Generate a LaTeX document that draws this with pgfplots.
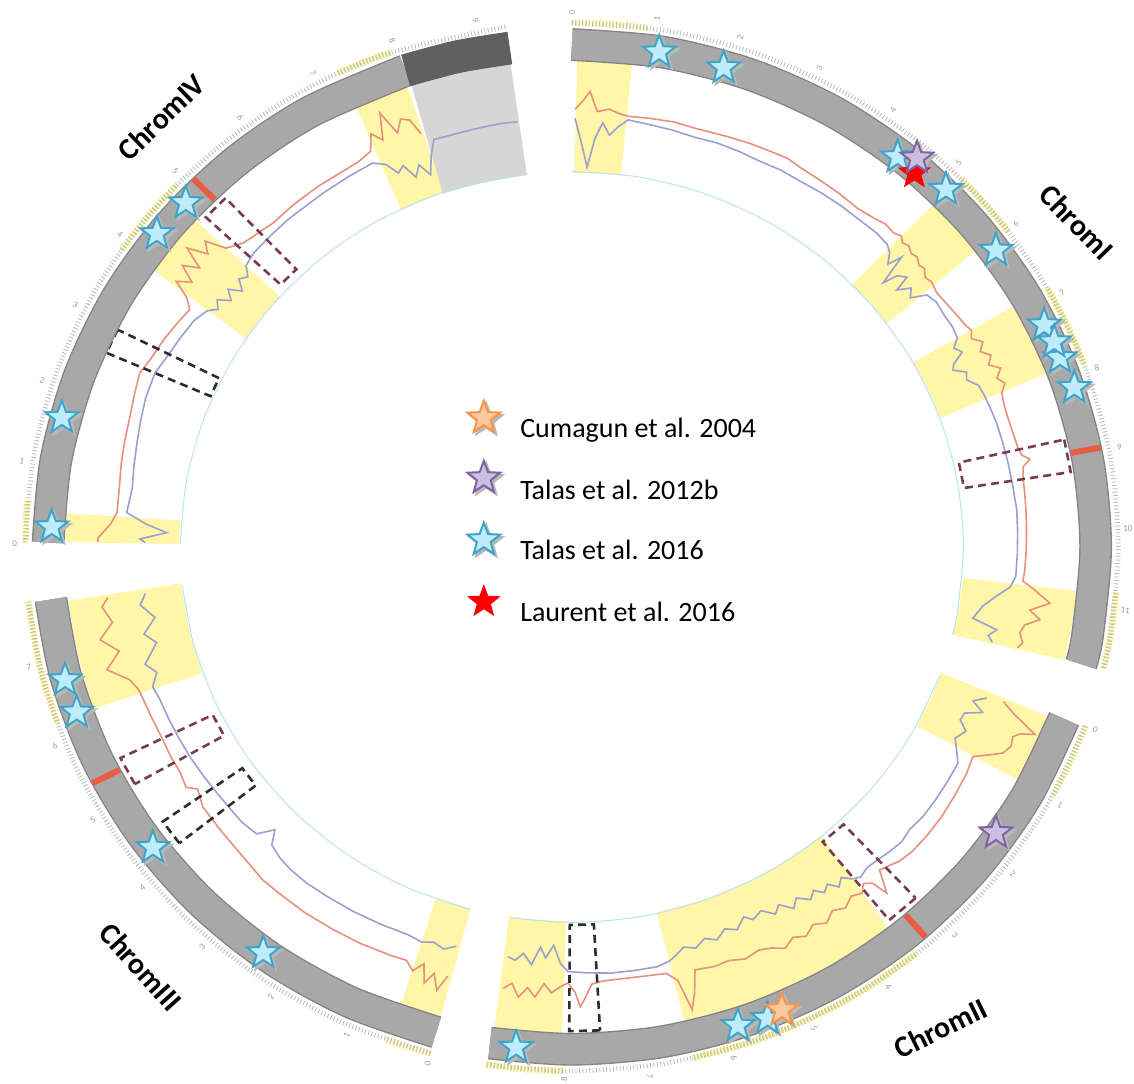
\documentclass[border=0pt]{standalone}
\usepackage{fontspec}
\setmainfont{Carlito}
\usepackage{pgfplots}
\usepackage{pgfplotstable}
\pgfplotsset{compat=1.18}

\definecolor{band}{RGB}{168,168,168}
\definecolor{bandedge}{RGB}{132,132,132}
\definecolor{banddark}{RGB}{96,96,96}
\definecolor{hl}{RGB}{255,246,168}
\definecolor{hltick}{RGB}{236,226,90}
\definecolor{trackgray}{RGB}{214,214,214}
\definecolor{redline}{RGB}{230,145,125}
\definecolor{blueline}{RGB}{155,160,208}
\definecolor{innerblue}{RGB}{185,226,246}
\definecolor{cent}{RGB}{232,92,64}
\definecolor{dashred}{RGB}{120,60,80}
\definecolor{dashblk}{RGB}{45,45,45}
\definecolor{cyanfill}{RGB}{190,236,250}
\definecolor{cyandraw}{RGB}{64,164,200}
\definecolor{purpfill}{RGB}{204,192,226}
\definecolor{purpdraw}{RGB}{128,100,162}
\definecolor{orfill}{RGB}{251,200,160}
\definecolor{ordraw}{RGB}{247,150,70}

% filled five-point star
\pgfdeclareplotmark{fstar}{%
  \pgfpathmoveto{\pgfpointpolar{90}{\pgfplotmarksize}}%
  \pgfpathlineto{\pgfpointpolar{126}{0.42\pgfplotmarksize}}%
  \pgfpathlineto{\pgfpointpolar{162}{\pgfplotmarksize}}%
  \pgfpathlineto{\pgfpointpolar{198}{0.42\pgfplotmarksize}}%
  \pgfpathlineto{\pgfpointpolar{234}{\pgfplotmarksize}}%
  \pgfpathlineto{\pgfpointpolar{270}{0.42\pgfplotmarksize}}%
  \pgfpathlineto{\pgfpointpolar{306}{\pgfplotmarksize}}%
  \pgfpathlineto{\pgfpointpolar{342}{0.42\pgfplotmarksize}}%
  \pgfpathlineto{\pgfpointpolar{18}{\pgfplotmarksize}}%
  \pgfpathlineto{\pgfpointpolar{54}{0.42\pgfplotmarksize}}%
  \pgfpathclose
  \pgfusepathqfillstroke}

\pgfplotsset{
  arc/.style={data cs=polar, smooth, no markers},
  hlsec/.style={arc, draw=hl, line width=57pt},
  hlout/.style={arc, draw=hltick, line width=3.2pt, dash pattern=on 0.7pt off 1pt},
  bandout/.style={arc, draw=bandedge, line width=16.4pt},
  bandin/.style={arc, draw=band, line width=15pt},
  inner/.style={arc, draw=innerblue, line width=0.5pt},
  ticks/.style={arc, draw=gray!55, line width=2.4pt, dash pattern=on 0.4pt off 1.3pt},
  rline/.style={data cs=polar, no markers, draw=redline, line width=0.8pt},
  bline/.style={data cs=polar, no markers, draw=blueline, line width=0.8pt},
  dbox/.style={data cs=polar, no markers, line width=1.3pt, dash pattern=on 4pt off 2.6pt},
  cmark/.style={data cs=polar, no markers, draw=cent, line width=3pt},
  stars/.style={only marks, mark=fstar, mark size=8.6pt},
}

% track values: angle (deg), radius
\pgfplotstableread{
a r
89.6 0.845
88.6 0.862
87.8 0.880
86.8 0.842
85.3 0.848
84.2 0.842
82.9 0.838
80 0.840
77 0.842
74 0.840
70 0.843
67 0.846
64 0.848
62 0.850
60 0.846
57 0.844
54 0.843
51 0.841
49 0.845
47 0.852
45.5 0.850
44.5 0.856
43.8 0.848
43 0.853
42 0.846
41.2 0.850
40.2 0.842
39.5 0.846
38.5 0.836
37.5 0.840
36 0.835
34 0.838
32 0.842
30.5 0.845
29.5 0.850
28.5 0.842
27.5 0.858
26.5 0.845
25.5 0.860
24.5 0.848
23.5 0.866
22.5 0.852
21.5 0.862
20.5 0.850
19 0.846
17 0.845
15 0.846
13 0.848
12 0.852
11.3 0.865
10.5 0.850
9 0.846
7 0.845
5 0.844
3 0.843
1 0.842
-1 0.841
-3 0.840
-4.5 0.838
-5.5 0.860
-7 0.892
-8.2 0.857
-9.2 0.878
-10.2 0.852
-11.3 0.846
-12.5 0.855
-13.3 0.848
}\chrIred
\pgfplotstableread{
a r
89.6 0.828
88.7 0.780
87.8 0.734
86.9 0.790
86.0 0.821
85.0 0.798
84.0 0.815
82.8 0.831
80 0.828
77 0.826
74 0.823
71 0.825
68 0.824
65 0.822
62 0.824
59 0.823
56 0.825
53 0.826
50 0.826
47 0.828
45 0.826
44 0.818
43 0.800
42.5 0.828
41.5 0.770
41 0.798
40 0.810
39.5 0.780
38.5 0.803
37.5 0.790
36.5 0.818
35 0.824
33 0.822
31 0.823
29.5 0.820
28.5 0.805
27.5 0.815
26.5 0.790
25.8 0.784
24.8 0.805
23.8 0.799
22.5 0.815
21 0.818
19 0.820
17 0.822
14 0.823
11 0.824
8 0.825
5 0.827
2 0.826
-1 0.825
-4 0.824
-5.5 0.815
-7 0.790
-8.5 0.770
-10.5 0.755
-11.5 0.803
-12.5 0.790
-13.3 0.800
}\chrIblue
\pgfplotstableread{
a r
-20.5 0.853
-21.5 0.880
-22.9 0.931
-23.5 0.905
-24.2 0.895
-25.3 0.900
-26.5 0.892
-27.5 0.870
-28.6 0.846
-31 0.852
-34 0.856
-37 0.860
-40 0.862
-43 0.862
-45 0.858
-46.5 0.850
-47.6 0.845
-48.4 0.870
-48.9 0.887
-49.4 0.855
-50.3 0.845
-51.2 0.858
-52.5 0.850
-54 0.862
-55.5 0.852
-57 0.866
-58.5 0.855
-60 0.868
-61.5 0.858
-63 0.870
-64.5 0.858
-66 0.852
-68 0.858
-70 0.850
-72 0.852
-74.4 0.848
-75.2 0.890
-76 0.921
-76.8 0.860
-78 0.842
-80 0.840
-82 0.839
-84 0.839
-86 0.840
-87.5 0.845
-88.5 0.875
-89 0.888
-89.6 0.860
-90.5 0.842
-91.5 0.850
-92.5 0.862
-93.5 0.845
-94.5 0.872
-95.5 0.855
-96.5 0.875
-97.5 0.850
-98.5 0.862
}\chrIIred
\pgfplotstableread{
a r
-20.8 0.822
-21.8 0.800
-22.8 0.825
-23.8 0.795
-24.9 0.793
-26 0.812
-27.5 0.800
-29 0.815
-30.3 0.828
-33 0.830
-36 0.832
-38.7 0.833
-41 0.830
-43 0.835
-45 0.832
-47 0.828
-48.5 0.826
-50 0.832
-51 0.825
-52 0.810
-53 0.822
-54 0.805
-55 0.815
-56 0.800
-57 0.812
-58.5 0.795
-59.5 0.810
-61 0.790
-62 0.803
-63.5 0.785
-65 0.794
-66 0.782
-67.5 0.800
-69 0.790
-70.5 0.805
-72 0.795
-73.5 0.808
-75 0.800
-76.3 0.812
-77.3 0.820
-79 0.826
-82 0.826
-85 0.826
-88 0.823
-90.5 0.820
-91.5 0.805
-92.5 0.770
-93.5 0.795
-94.3 0.775
-95.3 0.810
-96.5 0.790
-97.5 0.805
-98.5 0.800
}\chrIIblue
\pgfplotstableread{
a r
-105.5 0.860
-106.3 0.892
-107.2 0.862
-108 0.885
-108.8 0.850
-109.8 0.870
-111 0.855
-113 0.857
-117 0.860
-121 0.861
-125 0.862
-129 0.861
-131.7 0.861
-134 0.856
-137 0.852
-140 0.850
-143.7 0.848
-146 0.836
-147 0.852
-149 0.846
-151.5 0.846
-153.8 0.844
-157 0.845
-161 0.848
-162.6 0.858
-164.6 0.893
-166.5 0.862
-168.4 0.892
-170.3 0.863
-172.4 0.878
-173.5 0.865
}\chrIIIred
\pgfplotstableread{
a r
-105.5 0.800
-107 0.812
-108.5 0.805
-110 0.812
-112 0.808
-116 0.810
-120 0.812
-124 0.813
-127.1 0.814
-130 0.812
-132 0.808
-134 0.800
-135.2 0.775
-136.5 0.805
-139 0.810
-142 0.810
-144.1 0.811
-147 0.813
-150 0.815
-153 0.816
-156 0.817
-159 0.818
-160.8 0.822
-162.5 0.806
-164 0.822
-166.5 0.791
-168 0.810
-170 0.784
-172 0.807
-173.5 0.795
}\chrIIIblue
\pgfplotstableread{
a r
179.4 0.878
178.9 0.878
177 0.855
175.5 0.845
172 0.846
169 0.850
166 0.853
163 0.856
160 0.862
157.2 0.868
155 0.860
152 0.855
149 0.848
147.1 0.843
146 0.860
145 0.894
144 0.870
143 0.903
142 0.875
141 0.917
140 0.880
139 0.900
138 0.862
136 0.845
133 0.838
131.5 0.835
128 0.838
124 0.840
120.8 0.840
118 0.842
116 0.850
115 0.880
114 0.860
113 0.910
112 0.862
111 0.885
110 0.877
109.3 0.845
}\chrIVred
\pgfplotstableread{
a r
179.4 0.790
178.9 0.800
177.9 0.751
176.8 0.790
175.4 0.827
172 0.822
169 0.826
166 0.830
163 0.835
160 0.840
156.5 0.842
154 0.835
151 0.830
148 0.825
146 0.815
145 0.800
144 0.812
143 0.790
142 0.808
141 0.785
140 0.805
139 0.795
138 0.812
136 0.818
133 0.820
130 0.822
128.3 0.822
124 0.824
120 0.826
116.5 0.828
115 0.815
114 0.790
113 0.800
112 0.770
111 0.790
110 0.765
109 0.800
108 0.827
105 0.826
102 0.827
99 0.828
97 0.827
}\chrIVblue
\pgfplotstableread{
a r lab rot
90 1.032 0 90
81.2 1.032 1 81.2
72.4 1.032 2 72.4
63.6 1.032 3 63.6
54.8 1.032 4 54.8
46 1.032 5 46
37.2 1.032 6 37.2
28.4 1.032 7 28.4
19.6 1.032 8 19.6
10.8 1.032 9 10.8
2 1.03 10 2
-6.8 1.032 11 -6.8
-20 1.032 0 -20
-28.85 1.032 1 -28.85
-37.7 1.032 2 -37.7
-46.55 1.032 3 -46.55
-55.4 1.032 4 -55.4
-64.25 1.032 5 -64.25
-73.1 1.032 6 -73.1
-81.95 1.032 7 -81.95
-90.8 1.028 8 89.2
-105 1.032 0 75
-113.85 1.032 1 66.15
-122.7 1.032 2 57.3
-131.55 1.032 3 48.45
-140.4 1.032 4 39.6
-149.25 1.032 5 30.75
-158.1 1.032 6 21.9
-166.95 1.032 7 13.05
179.6 1.032 0 -0.4
170.75 1.032 1 -9.25
161.9 1.032 2 -18.1
153.05 1.032 3 -26.95
144.2 1.032 4 -35.8
135.35 1.032 5 -44.65
126.5 1.032 6 -53.5
117.65 1.032 7 -62.35
108.8 1.032 8 -71.2
99.95 1.032 9 -80.05
}\ticklabels

\begin{document}
\begin{tikzpicture}
\begin{axis}[
  width=567pt, height=542pt, scale only axis,
  xmin=-1.059, xmax=1.041, ymin=-1.037, ymax=1.056,
  hide axis, clip=false,
]
% highlighted windows in the track
\addplot[hlsec] coordinates {(89.5,0.8325) (86.2,0.8325) (83,0.8325)};
\addplot[hlsec] coordinates {(44.5,0.8325) (40.7,0.8325) (37,0.8325)};
\addplot[hlsec] coordinates {(29.5,0.8325) (25,0.8325) (20.5,0.8325)};
\addplot[hlsec] coordinates {(-5,0.8325) (-9.2,0.8325) (-13.5,0.8325)};
\addplot[hlsec] coordinates {(-20,0.8325) (-24.2,0.8325) (-28.5,0.8325)};
\addplot[hlsec] coordinates {(-51,0.8325) (-57.5,0.8325) (-64,0.8325) (-70.6,0.8325) (-77.3,0.8325)};
\addplot[hlsec] coordinates {(-91,0.8325) (-95,0.8325) (-99,0.8325)};
\addplot[hlsec] coordinates {(-105,0.8325) (-107.5,0.8325) (-110,0.8325)};
\addplot[hlsec] coordinates {(-160.5,0.8325) (-167.2,0.8325) (-174,0.8325)};
\addplot[hlsec] coordinates {(176,0.8325) (177.7,0.8325) (179.5,0.8325)};
\addplot[hlsec] coordinates {(138,0.8325) (141.9,0.8325) (145.8,0.8325)};
\addplot[hlsec] coordinates {(109,0.8325) (112.2,0.8325) (115.5,0.8325)};
\addplot[hlsec, draw=trackgray] coordinates {(96.8,0.8325) (102.8,0.8325) (108.8,0.8325)};

% inner edge of the track
\addplot[inner] coordinates {(90,0.725) (80,0.725) (70,0.725) (60,0.725) (50,0.725) (40,0.725) (30,0.725) (20,0.725) (10,0.725) (0,0.725) (-10,0.725) (-13.5,0.725)};
\addplot[inner] coordinates {(-20,0.725) (-30,0.725) (-40,0.725) (-50,0.725) (-60,0.725) (-70,0.725) (-80,0.725) (-90,0.725) (-99,0.725)};
\addplot[inner] coordinates {(-105,0.725) (-115,0.725) (-125,0.725) (-135,0.725) (-145,0.725) (-155,0.725) (-165,0.725) (-174,0.725)};
\addplot[inner] coordinates {(179.5,0.725) (170,0.725) (160,0.725) (150,0.725) (140,0.725) (130,0.725) (120,0.725) (108.8,0.725) (96.8,0.725)};

% track lines
\addplot[bline] table[x=a,y=r] {\chrIblue};
\addplot[rline] table[x=a,y=r] {\chrIred};
\addplot[bline] table[x=a,y=r] {\chrIIblue};
\addplot[rline] table[x=a,y=r] {\chrIIred};
\addplot[bline] table[x=a,y=r] {\chrIIIblue};
\addplot[rline] table[x=a,y=r] {\chrIIIred};
\addplot[bline] table[x=a,y=r] {\chrIVblue};
\addplot[rline] table[x=a,y=r] {\chrIVred};

% dashed windows
\addplot[dbox, draw=dashred] coordinates {(12.8,0.935) (8.9,0.935) (8.9,0.735) (12.8,0.735) (12.8,0.935)};
\addplot[dbox, draw=dashred] coordinates {(-46.8,0.93) (-50.8,0.93) (-50.8,0.735) (-46.8,0.735) (-46.8,0.93)};
\addplot[dbox, draw=dashblk] coordinates {(-86.8,0.935) (-90.3,0.935) (-90.3,0.73) (-86.8,0.73) (-86.8,0.935)};
\addplot[dbox, draw=dashred] coordinates {(-150.5,0.93) (-154,0.93) (-154,0.74) (-150.5,0.74) (-150.5,0.93)};
\addplot[dbox, draw=dashblk] coordinates {(-141.8,0.925) (-145,0.925) (-145,0.745) (-141.8,0.745) (-141.8,0.925)};
\addplot[dbox, draw=dashred] coordinates {(133.6,0.93) (136.8,0.93) (136.8,0.74) (133.6,0.74) (133.6,0.93)};
\addplot[dbox, draw=dashblk] coordinates {(153.5,0.94) (156.5,0.94) (156.5,0.73) (153.5,0.73) (153.5,0.94)};

% chromosome ideograms
\addplot[bandout] coordinates {(90,0.97) (80,0.97) (70,0.97) (60,0.97) (50,0.97) (40,0.97) (30,0.97) (20,0.97) (10,0.97) (0,0.97) (-10,0.97) (-13.5,0.97)};
\addplot[bandin] coordinates {(90,0.97) (80,0.97) (70,0.97) (60,0.97) (50,0.97) (40,0.97) (30,0.97) (20,0.97) (10,0.97) (0,0.97) (-10,0.97) (-13.5,0.97)};
\addplot[bandout] coordinates {(-20,0.97) (-30,0.97) (-40,0.97) (-50,0.97) (-60,0.97) (-70,0.97) (-80,0.97) (-90,0.97) (-99,0.97)};
\addplot[bandin] coordinates {(-20,0.97) (-30,0.97) (-40,0.97) (-50,0.97) (-60,0.97) (-70,0.97) (-80,0.97) (-90,0.97) (-99,0.97)};
\addplot[bandout] coordinates {(-105,0.97) (-115,0.97) (-125,0.97) (-135,0.97) (-145,0.97) (-155,0.97) (-165,0.97) (-174,0.97)};
\addplot[bandin] coordinates {(-105,0.97) (-115,0.97) (-125,0.97) (-135,0.97) (-145,0.97) (-155,0.97) (-165,0.97) (-174,0.97)};
\addplot[bandout] coordinates {(179.5,0.97) (170,0.97) (160,0.97) (150,0.97) (140,0.97) (130,0.97) (120,0.97) (108.5,0.97)};
\addplot[bandin] coordinates {(179.5,0.97) (170,0.97) (160,0.97) (150,0.97) (140,0.97) (130,0.97) (120,0.97) (108.5,0.97)};
\addplot[bandout, draw=banddark] coordinates {(108.5,0.97) (102.6,0.97) (96.8,0.97)};

% centromere marks
\addplot[cmark] coordinates {(11.1,0.942) (11.1,0.998)};
\addplot[cmark] coordinates {(-49.0,0.942) (-49.0,0.998)};
\addplot[cmark] coordinates {(-152.8,0.942) (-152.8,0.998)};
\addplot[cmark] coordinates {(134.6,0.942) (134.6,0.998)};

% scale ring
\addplot[hlout] coordinates {(90,1.012) (86,1.012) (82,1.012)};
\addplot[hlout] coordinates {(44.5,1.012) (40.7,1.012) (37,1.012)};
\addplot[hlout] coordinates {(29.5,1.012) (25,1.012) (20.5,1.012)};
\addplot[hlout] coordinates {(-5,1.012) (-9.2,1.012) (-13.5,1.012)};
\addplot[hlout] coordinates {(-20,1.012) (-24.2,1.012) (-28.5,1.012)};
\addplot[hlout] coordinates {(-51,1.012) (-57.5,1.012) (-64,1.012) (-70.6,1.012) (-77.3,1.012)};
\addplot[hlout] coordinates {(-91,1.012) (-95,1.012) (-99,1.012)};
\addplot[hlout] coordinates {(-105,1.012) (-107.5,1.012) (-110,1.012)};
\addplot[hlout] coordinates {(-160.5,1.012) (-167.2,1.012) (-174,1.012)};
\addplot[hlout] coordinates {(175,1.012) (177.2,1.012) (179.5,1.012)};
\addplot[hlout] coordinates {(136.5,1.012) (141,1.012) (145.5,1.012)};
\addplot[hlout] coordinates {(109.4,1.012) (112.4,1.012) (115.4,1.012)};
\addplot[ticks] coordinates {(90,1.012) (80,1.012) (70,1.012) (60,1.012) (50,1.012) (40,1.012) (30,1.012) (20,1.012) (10,1.012) (0,1.012) (-10,1.012) (-13.5,1.012)};
\addplot[ticks] coordinates {(-20,1.012) (-30,1.012) (-40,1.012) (-50,1.012) (-60,1.012) (-70,1.012) (-80,1.012) (-90,1.012) (-99,1.012)};
\addplot[ticks] coordinates {(-105,1.012) (-115,1.012) (-125,1.012) (-135,1.012) (-145,1.012) (-155,1.012) (-165,1.012) (-174,1.012)};
\addplot[ticks] coordinates {(179.5,1.012) (170,1.012) (160,1.012) (150,1.012) (140,1.012) (130,1.012) (120,1.012) (110,1.012) (96.8,1.012)};
\addplot[data cs=polar, draw=none, no markers, nodes near coords, point meta=explicit symbolic,
  visualization depends on={\thisrow{rot}\as\rot},
  every node near coord/.append style={anchor=center, rotate=\rot, inner sep=0pt,
    font=\fontsize{4.5}{5}\selectfont, text=gray!80}]
  table[x=a,y=r,meta=lab] {\ticklabels};

% QTL stars: shadows first
\addplot[data cs=polar, stars, mark options={fill=gray!55, draw=gray!55, line width=1pt, xshift=1.2pt, yshift=-1.2pt}]
  coordinates {(80.4,0.969) (73.1,0.967) (51.3,0.965) (44.9,0.978) (36.1,0.972) (26.1,0.974) (22.0,0.975) (23.9,0.977) (18.3,0.98)
  (-68.3,0.98) (-71.6,0.974) (-96.1,0.972) (-126.1,0.970) (-143.2,0.969) (-160.8,0.971) (-164.7,0.973)
  (165.2,0.977) (177.7,0.964) (141.8,0.978) (137.1,0.976) (49.6,0.986) (-35.1,0.960) (-66.5,0.975)};
\addplot[stars, mark options={fill=gray!55, draw=gray!55, line width=1pt, xshift=1.2pt, yshift=-1.2pt}]
  coordinates {(-0.163,0.249) (-0.163,0.133) (-0.163,0.0135)};
% Talas et al. 2016
\addplot[data cs=polar, stars, mark options={fill=cyanfill, draw=cyandraw, line width=1pt}]
  coordinates {(80.4,0.969) (73.1,0.967) (51.3,0.965) (44.9,0.978) (36.1,0.972) (26.1,0.974) (22.0,0.975) (23.9,0.977) (18.3,0.98)
  (-68.3,0.98) (-71.6,0.974) (-96.1,0.972) (-126.1,0.970) (-143.2,0.969) (-160.8,0.971) (-164.7,0.973)
  (165.2,0.977) (177.7,0.964) (141.8,0.978) (137.1,0.976)};
% Laurent et al. 2016
\addplot[data cs=polar, stars, mark size=8pt, mark options={fill=red, draw=red, line width=0.6pt}]
  coordinates {(48.7,0.961)};
% Talas et al. 2012b
\addplot[data cs=polar, stars, mark options={fill=purpfill, draw=purpdraw, line width=1pt}]
  coordinates {(49.6,0.986) (-35.1,0.960)};
% Cumagun et al. 2004
\addplot[data cs=polar, stars, mark options={fill=orfill, draw=ordraw, line width=1pt}]
  coordinates {(-66.5,0.975)};

% key
\addplot[stars, mark options={fill=orfill, draw=ordraw, line width=1pt}] coordinates {(-0.163,0.249)};
\addplot[stars, mark options={fill=purpfill, draw=purpdraw, line width=1pt}] coordinates {(-0.163,0.133)};
\addplot[stars, mark options={fill=cyanfill, draw=cyandraw, line width=1pt}] coordinates {(-0.163,0.0135)};
\addplot[stars, mark size=8pt, mark options={fill=red, draw=red, line width=0.6pt}] coordinates {(-0.163,-0.106)};
\node[anchor=base west, inner sep=0pt, font=\fontsize{14}{16}\selectfont] at (axis cs:-0.0963,0.2104) {Cumagun et al. 2004};
\node[anchor=base west, inner sep=0pt, font=\fontsize{14}{16}\selectfont] at (axis cs:-0.0963,0.0907) {Talas et al. 2012b};
\node[anchor=base west, inner sep=0pt, font=\fontsize{14}{16}\selectfont] at (axis cs:-0.0963,-0.0251) {Talas et al. 2016};
\node[anchor=base west, inner sep=0pt, font=\fontsize{14}{16}\selectfont] at (axis cs:-0.0963,-0.1448) {Laurent et al. 2016};

% chromosome names
\node[rotate=-46, inner sep=0pt, font=\bfseries\fontsize{15}{17}\selectfont] at (axis cs:0.935,0.627) {ChromI};
\node[rotate=26, inner sep=0pt, font=\bfseries\fontsize{15}{17}\selectfont] at (axis cs:0.683,-0.929) {ChromII};
\node[rotate=-48, inner sep=0pt, font=\bfseries\fontsize{15}{17}\selectfont] at (axis cs:-0.798,-0.811) {ChromIII};
\node[rotate=44, inner sep=0pt, font=\bfseries\fontsize{15}{17}\selectfont] at (axis cs:-0.760,0.830) {ChromIV};
\end{axis}
\pgfresetboundingbox
\path[use as bounding box] (current axis.south west) rectangle (current axis.north east);
\end{tikzpicture}
\end{document}
